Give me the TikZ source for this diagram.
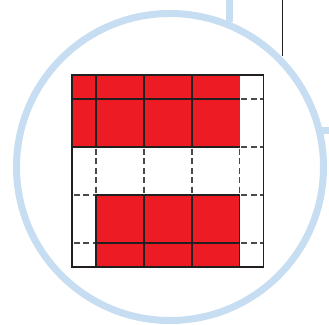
\documentclass[tikz,border=0pt]{standalone}
\definecolor{ringblue}{HTML}{C6DDF2}
\definecolor{gridred}{HTML}{ED1C24}
\definecolor{gridline}{HTML}{231F20}
\definecolor{dashgrey}{HTML}{4A4A4A}
\tikzset{
  ring/.style={draw=ringblue,line width=7pt},
  solidline/.style={draw=gridline,line width=1.3pt},
  dashline/.style={draw=dashgrey,line width=1.1pt,dash pattern=on 6pt off 3.5pt,dash phase=-1.5pt},
  redfill/.style={fill=gridred}
}
\begin{document}
\begin{tikzpicture}[x=1pt,y=-1pt]
\useasboundingbox (0,0) rectangle (329,324);
% thin black line at top right
\draw[draw=gridline,line width=1pt] (282.7,0) -- (282.7,56);
% ring with stems
\draw[ring] (170,167) circle (153.5);
\draw[ring] (229,0) -- (229,22);
\draw[ring] (321,130.5) -- (330,130.5);
% red regions
\fill[redfill] (72,75) rectangle (239.5,147);
\fill[redfill] (96,195) rectangle (239.5,267);
% dashed lines
\foreach \x in {96,144,192} \draw[dashline] (\x,147) -- (\x,195);
\draw[dashline] (239.5,147) -- (239.5,195);
\foreach \y in {99,147,195,243} \draw[dashline] (239.5,\y) -- (263.5,\y);
\foreach \y in {195,243} \draw[dashline] (72,\y) -- (96,\y);
% solid lines
\foreach \x in {96,144,192} {
  \draw[solidline] (\x,75) -- (\x,147);
  \draw[solidline] (\x,195) -- (\x,267);
}
\draw[solidline] (239.5,195) -- (239.5,267);
\foreach \y in {99,147} \draw[solidline] (72,\y) -- (239.5,\y);
\foreach \y in {195,243} \draw[solidline] (96,\y) -- (239.5,\y);
\draw[solidline] (72,75) rectangle (263.5,267);
\end{tikzpicture}
\end{document}
